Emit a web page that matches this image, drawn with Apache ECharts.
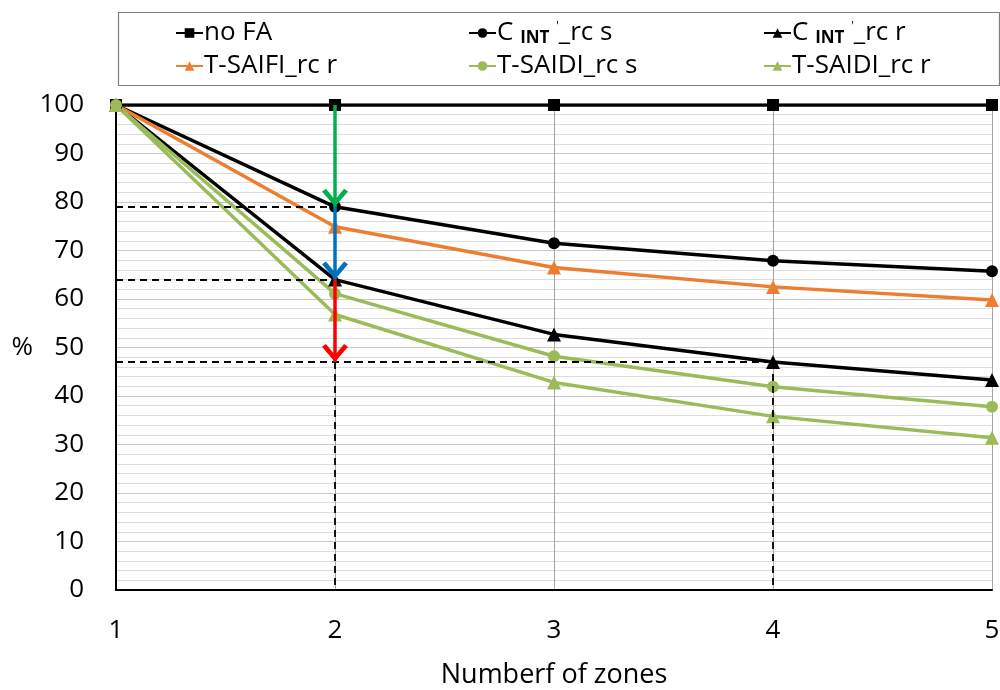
<!DOCTYPE html>
<html>
<head>
<meta charset="utf-8">
<script src="https://cdn.jsdelivr.net/npm/echarts@6/dist/echarts.min.js"></script>
<style>
  html, body { margin: 0; padding: 0; background: #ffffff; }
  #chart { width: 1000px; height: 690px; }
</style>
</head>
<body>
<div id="chart"></div>
<script>
// Number of feeder zones on the x axis
const zones = [1, 2, 3, 4, 5];

// Series names and their values (% of the no-automation case)
const seriesNames = ['no FA', "C_INT'_rc s", "C_INT'_rc r", 'T-SAIFI_rc r', 'T-SAIDI_rc s', 'T-SAIDI_rc r'];
const noFA        = [100, 100, 100, 100, 100];
const cIntRcS     = [100, 79, 71.5, 67.9, 65.7];
const cIntRcR     = [100, 64, 52.7, 47, 43.3];
const tSaifiRcR   = [100, 74.9, 66.5, 62.5, 59.8];
const tSaidiRcS   = [100, 61.1, 48.2, 41.9, 37.8];
const tSaidiRcR   = [100, 56.8, 42.8, 35.8, 31.4];

// Reference levels picked off at 2 and 4 zones
const levelS2 = 79;   // C_INT'_rc s at 2 zones
const levelR2 = 64;   // C_INT'_rc r at 2 zones
const levelR4 = 47;   // C_INT'_rc r at 4 zones
const yTicks = [0, 10, 20, 30, 40, 50, 60, 70, 80, 90, 100];

const FONT = '"Open Sans", sans-serif';
const GREEN = '#9BBB59';
const ORANGE = '#ED7D31';

const pairs = vals => zones.map((z, i) => [z, vals[i]]);

// open chevron arrow head pointing up; the empty sub-path mirrors the bounding
// box so the tip sits at the symbol centre (i.e. exactly on the end point)
const chevron = 'path://M8,0 L16,9.5 L13.6,11.2 L8,4.4 L2.4,11.2 L0,9.5 Z M8,-11.2 L8.01,-11.2 L8,-11.19 Z';

function lineSeries(name, vals, color, symbol, size) {
  return {
    name, type: 'line', data: pairs(vals),
    symbol, symbolSize: size, showSymbol: true,
    lineStyle: { color, width: 3.5 },
    itemStyle: { color },
    z: 3
  };
}

const series = [
  lineSeries(seriesNames[0], noFA, '#000000', 'rect', 12),
  lineSeries(seriesNames[1], cIntRcS, '#000000', 'circle', 12),
  lineSeries(seriesNames[2], cIntRcR, '#000000', 'triangle', 14),
  lineSeries(seriesNames[3], tSaifiRcR, ORANGE, 'triangle', 14),
  lineSeries(seriesNames[4], tSaidiRcS, GREEN, 'circle', 12),
  lineSeries(seriesNames[5], tSaidiRcR, GREEN, 'triangle', 14),
  // dashed guide lines
  {
    type: 'line', data: [], silent: true, z: 2,
    markLine: {
      silent: true, symbol: ['none', 'none'], label: { show: false },
      lineStyle: { color: '#000000', type: [7, 5], width: 1.8 },
      data: [
        [{ coord: [zones[0], levelS2] }, { coord: [zones[1], levelS2] }],
        [{ coord: [zones[0], levelR2] }, { coord: [zones[1], levelR2] }],
        [{ coord: [zones[0], levelR4] }, { coord: [zones[3], levelR4] }],
        [{ coord: [zones[1], levelR4] }, { coord: [zones[1], 0] }],
        [{ coord: [zones[3], levelR4] }, { coord: [zones[3], 0] }]
      ]
    }
  },
  // step-down arrows at 2 zones
  {
    type: 'line', data: [], silent: true, z: 5,
    markLine: {
      silent: true, symbol: ['none', chevron], symbolSize: [26, 36],
      label: { show: false },
      lineStyle: { width: 3.5, type: 'solid' },
      data: [
        [{ coord: [zones[1], noFA[1]], lineStyle: { color: '#00B050' }, itemStyle: { color: '#00B050' } },
         { coord: [zones[1], levelS2] }],
        [{ coord: [zones[1], levelS2], lineStyle: { color: '#0070C0' }, itemStyle: { color: '#0070C0' } },
         { coord: [zones[1], levelR2] }],
        [{ coord: [zones[1], levelR2], lineStyle: { color: '#FF0000' }, itemStyle: { color: '#FF0000' } },
         { coord: [zones[1], levelR4] }]
      ]
    }
  }
];

// legend placed as a 3x2 table
const legendPos = [
  [170, 15], [463, 15], [758, 15],
  [170, 48], [463, 48], [758, 48]
];
const legends = seriesNames.map((n, i) => ({
  data: [n],
  left: legendPos[i][0], top: legendPos[i][1],
  itemWidth: 27, itemHeight: 12, itemGap: 0,
  selectedMode: false,
  textStyle: {
    fontFamily: FONT, fontSize: 26, color: '#000000', padding: [0, 0, 0, -4],
    rich: {
      sub: { fontFamily: FONT, fontSize: 17, fontWeight: 'bold', color: '#000000', padding: [10, 0, 0, 0] },
      sup: { fontFamily: FONT, fontSize: 12, color: '#000000', padding: [0, 0, 12, 0] },
      txt: { fontFamily: FONT, fontSize: 26, color: '#000000' }
    }
  },
  formatter: name => {
    if (name.startsWith('C_INT')) {
      return '{txt|C }{sub|INT}{txt| }{sup|\'}{txt|' + name.slice(6) + '}';
    }
    return name;
  }
}));

const option = {
  animation: false,
  backgroundColor: '#ffffff',
  legend: legends,
  graphic: [{
    type: 'rect', left: 116, top: 10, z: -1,
    shape: { width: 881, height: 73 },
    style: { fill: 'none', stroke: '#7f7f7f', lineWidth: 1.2 }
  }],
  grid: { left: 116, right: 8, top: 105, bottom: 100, outerBoundsMode: 'none', containLabel: false },
  xAxis: {
    type: 'value', min: 1, max: 5, interval: 1,
    name: 'Numberf of zones', nameLocation: 'middle', nameGap: 72,
    nameTextStyle: { fontFamily: FONT, fontSize: 27, color: '#000000' },
    axisLine: { show: true, onZero: false, lineStyle: { color: '#000000', width: 2 } },
    axisTick: { show: false },
    axisLabel: { fontFamily: FONT, fontSize: 26, color: '#000000', margin: 28 },
    splitLine: { show: true, lineStyle: { color: '#A6A6A6', width: 1 } }
  },
  yAxis: {
    type: 'value', min: yTicks[0], max: yTicks[yTicks.length - 1], interval: 10,
    name: '%', nameLocation: 'middle', nameRotate: 0, nameGap: 83,
    nameTextStyle: { fontFamily: FONT, fontSize: 26, color: '#000000' },
    axisLine: { show: true, lineStyle: { color: '#000000', width: 2 } },
    axisTick: { show: false },
    axisLabel: { fontFamily: FONT, fontSize: 26, color: '#000000', margin: 32 },
    splitLine: { show: true, lineStyle: { color: '#C8C8C8', width: 1 } },
    minorTick: { show: false, splitNumber: 5 },
    minorSplitLine: { show: true, lineStyle: { color: '#DDDDDD', width: 1 } }
  },
  series
};

const chart = echarts.init(document.getElementById('chart'), null, { renderer: 'canvas' });
chart.setOption(option);
</script>
</body>
</html>
